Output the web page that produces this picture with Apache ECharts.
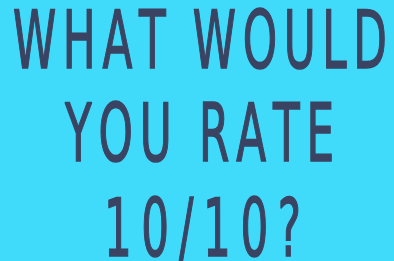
<!DOCTYPE html>
<html>
<head>
<meta charset="utf-8">
<script src="https://cdn.jsdelivr.net/npm/echarts@6/dist/echarts.min.js"></script>
<style>
html, body { margin: 0; padding: 0; background: #40dbfa; }
#box { width: 394px; height: 261px; }
</style>
</head>
<body>
<div id="box"></div>
<script>
// text lines of the card
var lines = ['WHAT WOULD', 'YOU RATE', '10/10?'];

// layout (pixels)
var lineCenterY = [47, 139.5, 234.5];
var lineLeft = [13, 65, 104];
var lineRight = [387, 334, 301];
var fontSize = 81;
var squeeze = 0.6;
var fontFamily = 'DejaVu Sans Condensed, DejaVu Sans';
var textColor = '#3a4462';

var ctx = document.createElement('canvas').getContext('2d');
ctx.font = fontSize + 'px ' + fontFamily;

var elements = [];
lines.forEach(function (line, i) {
    var chars = line.split('');
    var widths = chars.map(function (c) { return ctx.measureText(c).width * squeeze; });
    var total = widths.reduce(function (a, b) { return a + b; }, 0);
    var gap = (lineRight[i] - lineLeft[i] - total) / (chars.length - 1);
    var x = lineLeft[i];
    chars.forEach(function (c, k) {
        if (c !== ' ') {
            elements.push({
                type: 'text',
                x: x,
                y: lineCenterY[i],
                scaleX: squeeze,
                style: {
                    text: c,
                    fontSize: fontSize,
                    fontFamily: fontFamily,
                    fill: textColor,
                    stroke: textColor,
                    lineWidth: 1.5,
                    strokeNoScale: true,
                    align: 'left',
                    verticalAlign: 'middle'
                }
            });
        }
        x += widths[k] + gap;
    });
});

var myChart = echarts.init(document.getElementById('box'));
myChart.setOption({
    backgroundColor: '#40dbfa',
    graphic: elements
});
</script>
</body>
</html>
